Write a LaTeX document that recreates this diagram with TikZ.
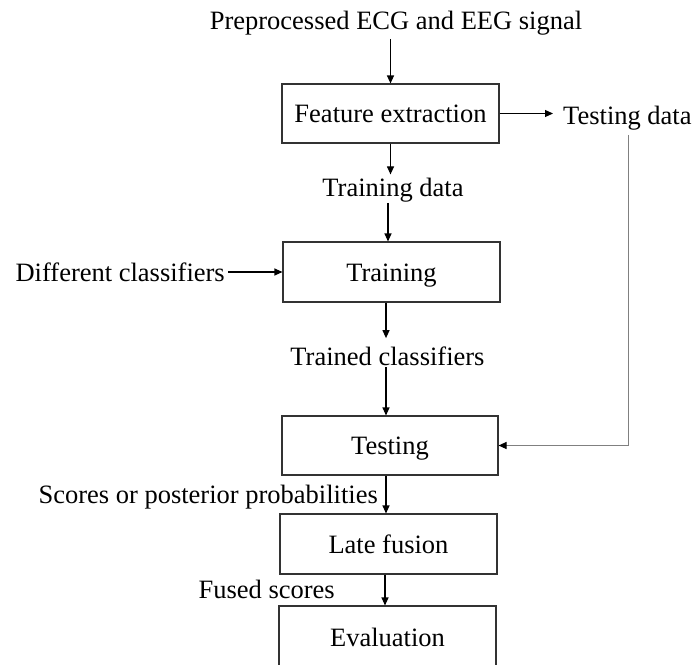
\documentclass[tikz,border=0pt]{standalone}
\usepackage{fontspec}
\setmainfont{Liberation Serif}
\usetikzlibrary{arrows.meta}
\begin{document}
\begin{tikzpicture}[x=1pt,y=-1pt,
  txt/.style={font=\fontsize{26.5}{30}\selectfont, text=black},
  box/.style={txt, draw=black!80, line width=1.1pt, inner sep=0pt, text height=20pt, text depth=2pt},
  lbl/.style={txt, inner sep=0pt},
  arr/.style={draw=black, line width=1.1pt, -{Triangle[length=8pt,width=7pt]}},
  arrg/.style={draw=black!50, line width=1.1pt, -{Triangle[length=8pt,width=7pt,color=black]}},
]
\useasboundingbox (0,0) rectangle (692,664);
% boxes
\node[box, minimum width=217pt, minimum height=59pt] (fe) at (390.5,113.5) {Feature extraction};
\node[box, minimum width=217pt, minimum height=60pt] (tr) at (391.5,272) {Training};
\node[box, minimum width=216pt, minimum height=59pt] (te) at (390,445.5) {Testing};
\node[box, minimum width=217pt, minimum height=60pt] (lf) at (388.5,544) {Late fusion};
\node[box, minimum width=217pt, minimum height=62pt] (ev) at (387.5,637) {Evaluation};
% labels
\node[lbl, anchor=base] (src) at (396,29.5) {Preprocessed ECG and EEG signal};
\node[lbl, anchor=base west] (td) at (563,124) {Testing data};
\node[lbl, anchor=base] (trd) at (393,196) {Training data};
\node[lbl, anchor=base east] (dc) at (225,281) {Different classifiers};
\node[lbl, anchor=base] (tc) at (387.5,365) {Trained classifiers};
\node[lbl, anchor=base east] (sc) at (378,503) {Scores or posterior probabilities};
\node[lbl, anchor=base east] (fs) at (335,598) {Fused scores};
% connectors
\draw[arr, shorten <=3.5pt] (fe.north |- src.south) -- (fe.north);
\draw[arr, shorten >=10pt] (fe.east) -- (fe.east -| td.west);
\draw[arrg, shorten <=5pt] ([xshift=1.5pt]td.south) |- (te.east);
\draw[arr, shorten >=3pt] (fe.south) -- (fe.south |- trd.north);
\draw[arr, shorten <=1pt] ([xshift=-3.5pt]tr.north |- trd.south) -- ([xshift=-3.5pt]tr.north);
\draw[arr, shorten <=3pt] (dc.east |- tr.west) -- (tr.west);
\draw[arr, shorten >=8pt] ([xshift=-5.5pt]tr.south) -- ([xshift=-5.5pt]tr.south |- tc.north);
\draw[arr, shorten <=2pt] ([xshift=-4pt]te.north |- tc.south) -- ([xshift=-4pt]te.north);
\draw[arr] ([xshift=-4pt]te.south) -- ([xshift=-4pt]te.south |- lf.north);
\draw[arr] ([xshift=-3.5pt]lf.south) -- ([xshift=-3.5pt]lf.south |- ev.north);
\end{tikzpicture}
\end{document}
